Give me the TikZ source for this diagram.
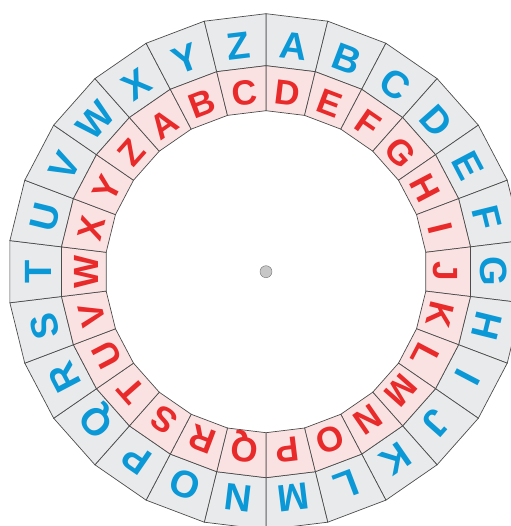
\documentclass[tikz,border=0pt]{standalone}
\usepackage{fontspec}
\setmainfont{Liberation Sans}
\usepackage{xcolor}
\usetikzlibrary{positioning}
\definecolor{wheelblue}{RGB}{10,152,214}
\definecolor{wheelred}{RGB}{232,42,42}
\definecolor{outerfill}{RGB}{233,234,236}
\definecolor{innerfill}{RGB}{251,226,226}

\begin{document}
\begin{tikzpicture}[
            x=1pt, y=1pt,
            cell/.style={draw=black!70, line width=0.7pt},
            outletter/.style={text=wheelblue, inner sep=0pt, text height=27pt, text depth=0pt,
                font=\fontsize{38}{38}\selectfont\bfseries},
            inletter/.style={text=wheelred, inner sep=0pt, text height=25pt, text depth=0pt,
                font=\fontsize{35}{35}\selectfont\bfseries},
        ]
            \useasboundingbox (-266,-254.3) rectangle (244,271.7);
            % ring cells
            \foreach \k in {0,...,25} {
                \pgfmathsetmacro{\ang}{90-\k*360/26}
                \pgfmathsetmacro{\angb}{90-(\k+1)*360/26}
                \filldraw[cell, fill=outerfill] (\ang:258) -- (\angb:258) -- (\angb:206) -- (\ang:206) -- cycle;
                \filldraw[cell, fill=innerfill] (\ang:206) -- (\angb:206) -- (\angb:161) -- (\ang:161) -- cycle;
            }
            % letters, inner ring shifted by three
            \foreach \l [count=\i from 0] in {A,B,C,D,E,F,G,H,I,J,K,L,M,N,O,P,Q,R,S,T,U,V,W,X,Y,Z} {
                \pgfmathsetmacro{\pos}{90-(\i+0.5)*360/26}
                \pgfmathsetmacro{\posb}{90-(\i-2.5)*360/26}
                \node[outletter, rotate=\pos-90] (out-\l) at (\pos:228) {\l};
                \node[inletter, rotate=\posb-90] (in-\l) at (\posb:180) {\l};
            }
            \node[circle, draw=black!55, fill=black!22, minimum size=12pt, inner sep=0pt] (hub) at (0,0) {};
        \end{tikzpicture}
\end{document}
